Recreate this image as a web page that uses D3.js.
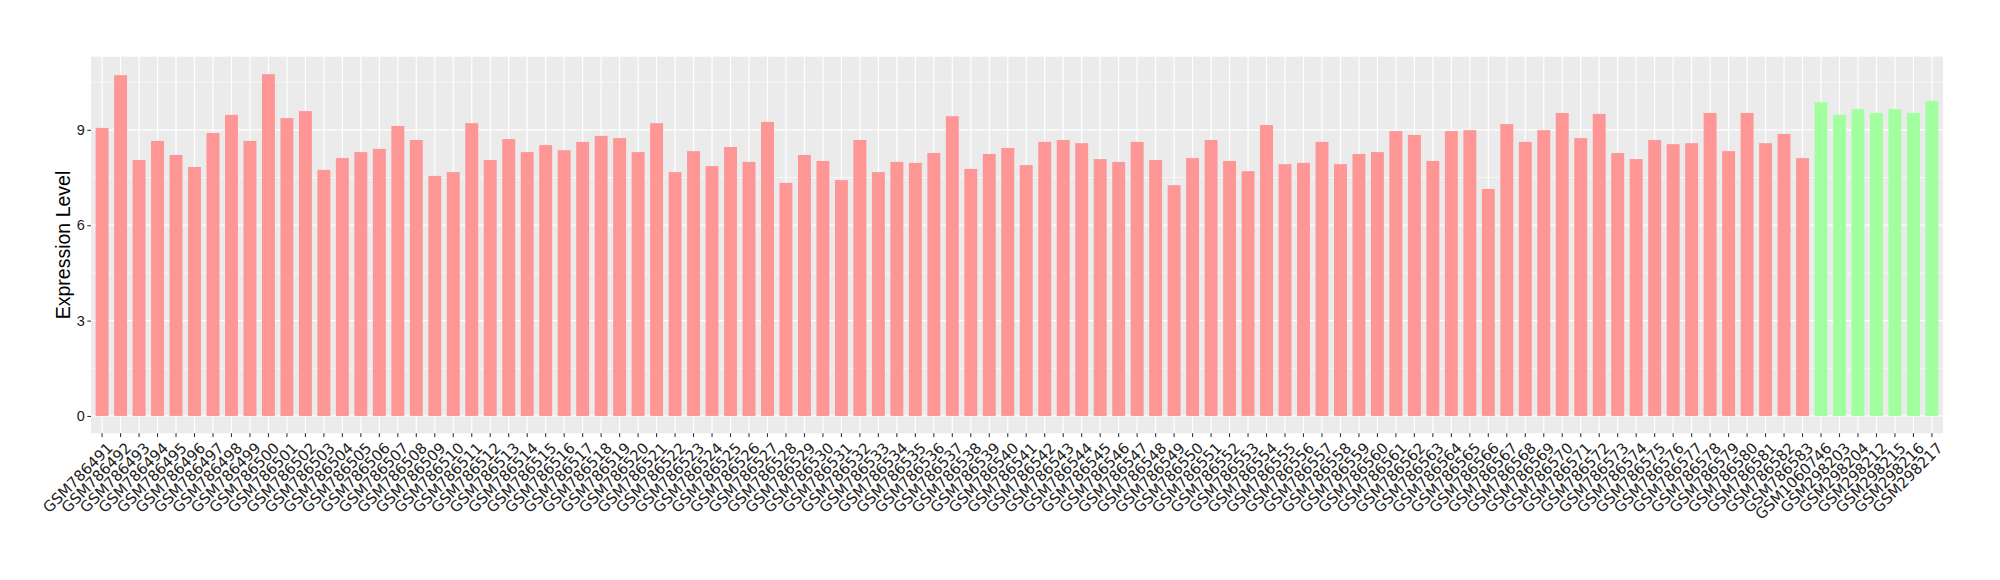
<!DOCTYPE html>
<html>
<head>
<meta charset="utf-8">
<script src="https://cdn.jsdelivr.net/npm/d3@7"></script>
<style>
  html, body { margin: 0; padding: 0; background: #fff; }
  svg { display: block; font-family: "Liberation Sans", Arial, sans-serif; }
</style>
</head>
<body>
<svg id="chart" width="2000" height="580"></svg>
<script>
// ---- data ----
const redSamples = [];
for (let i = 786491; i <= 786583; i++) redSamples.push("GSM" + i);
const greenSamples = ["GSM1060746", "GSM298203", "GSM298204", "GSM298212", "GSM298215", "GSM298216", "GSM298217"];
const categories = redSamples.concat(greenSamples);

const redValues = [
  9.06, 10.72, 8.05, 8.65, 8.21, 7.83, 8.90, 9.47, 8.65, 10.75,
  9.37, 9.59, 7.74, 8.11, 8.30, 8.40, 9.12, 8.68, 7.55, 7.67,
  9.21, 8.05, 8.71, 8.30, 8.52, 8.36, 8.62, 8.81, 8.74, 8.30,
  9.21, 7.67, 8.33, 7.86, 8.46, 7.99, 9.25, 7.33, 8.21, 8.02,
  7.42, 8.68, 7.67, 7.99, 7.96, 8.27, 9.43, 7.77, 8.24, 8.43,
  7.89, 8.62, 8.68, 8.58, 8.08, 7.99, 8.62, 8.05, 7.26, 8.11,
  8.68, 8.02, 7.70, 9.15, 7.92, 7.96, 8.62, 7.92, 8.24, 8.30,
  8.96, 8.84, 8.02, 8.96, 8.99, 7.14, 9.18, 8.62, 8.99, 9.53,
  8.74, 9.50, 8.27, 8.08, 8.68, 8.55, 8.58, 9.53, 8.33, 9.53,
  8.58, 8.87, 8.11
];
const greenValues = [9.87, 9.47, 9.65, 9.53, 9.65, 9.53, 9.91];
const values = redValues.concat(greenValues);
const groups = redSamples.map(() => "red").concat(greenSamples.map(() => "green"));

const yTicks = [0, 3, 6, 9];
const yMinor = [1.5, 4.5, 7.5, 10.5];

// ---- layout ----
const panel = { left: 91, right: 1943, top: 56.7, bottom: 433.3 };
const colors = { red: "#FF9696", green: "#A2FFA0" };

const svg = d3.select("#chart");

const x = d3.scaleBand()
  .domain(categories)
  .range([panel.left, panel.right])
  .paddingInner(0.3)
  .paddingOuter(0.25);

const y = d3.scaleLinear()
  .domain([-0.545, 11.3])
  .range([panel.bottom, panel.top]);

// panel background
svg.append("rect")
  .attr("x", panel.left).attr("y", panel.top)
  .attr("width", panel.right - panel.left)
  .attr("height", panel.bottom - panel.top)
  .attr("fill", "#EBEBEB");

// minor horizontal grid
svg.append("g").selectAll("line").data(yMinor).join("line")
  .attr("x1", panel.left).attr("x2", panel.right)
  .attr("y1", d => y(d)).attr("y2", d => y(d))
  .attr("stroke", "#fff").attr("stroke-width", 0.6);

// major horizontal grid
svg.append("g").selectAll("line").data(yTicks).join("line")
  .attr("x1", panel.left).attr("x2", panel.right)
  .attr("y1", d => y(d)).attr("y2", d => y(d))
  .attr("stroke", "#fff").attr("stroke-width", 1.2);

// vertical grid
svg.append("g").selectAll("line").data(categories).join("line")
  .attr("x1", d => x(d) + x.bandwidth() / 2).attr("x2", d => x(d) + x.bandwidth() / 2)
  .attr("y1", panel.top).attr("y2", panel.bottom)
  .attr("stroke", "#fff").attr("stroke-width", 1.2);

// bars
svg.append("g").selectAll("rect").data(categories).join("rect")
  .attr("x", d => x(d))
  .attr("width", x.bandwidth())
  .attr("y", (d, i) => y(values[i]))
  .attr("height", (d, i) => y(0) - y(values[i]))
  .attr("fill", (d, i) => colors[groups[i]]);

// y axis
const yAxis = d3.axisLeft(y).tickValues(yTicks).tickSize(3.7).tickPadding(2.5);
const gy = svg.append("g").attr("transform", `translate(${panel.left},0)`).call(yAxis);
gy.select(".domain").remove();
gy.selectAll(".tick line").attr("stroke", "#333").attr("stroke-width", 1.1);
gy.selectAll(".tick text").attr("fill", "#1a1a1a").style("font-size", "14.5px")
  .style("font-family", "'Liberation Sans', Arial, sans-serif");

// x axis
const xAxis = d3.axisBottom(x).tickSize(3.7).tickPadding(0);
const gx = svg.append("g").attr("transform", `translate(0,${panel.bottom})`).call(xAxis);
gx.select(".domain").remove();
gx.selectAll(".tick line").attr("stroke", "#333").attr("stroke-width", 1.1);
gx.selectAll(".tick text")
  .attr("fill", "#222")
  .style("font-size", "15px")
  .style("font-family", "'DejaVu Sans', sans-serif")
  .attr("text-anchor", "end")
  .attr("y", 0)
  .attr("dy", 0)
  .attr("transform", "translate(4,8) rotate(-45) translate(0,11)");

// y title
svg.append("text")
  .attr("transform", `translate(70,${(panel.top + panel.bottom) / 2}) rotate(-90)`)
  .attr("text-anchor", "middle")
  .attr("fill", "#000")
  .style("font-size", "19.5px")
  .style("font-family", "'Liberation Sans', Arial, sans-serif")
  .text("Expression Level");
</script>
</body>
</html>
